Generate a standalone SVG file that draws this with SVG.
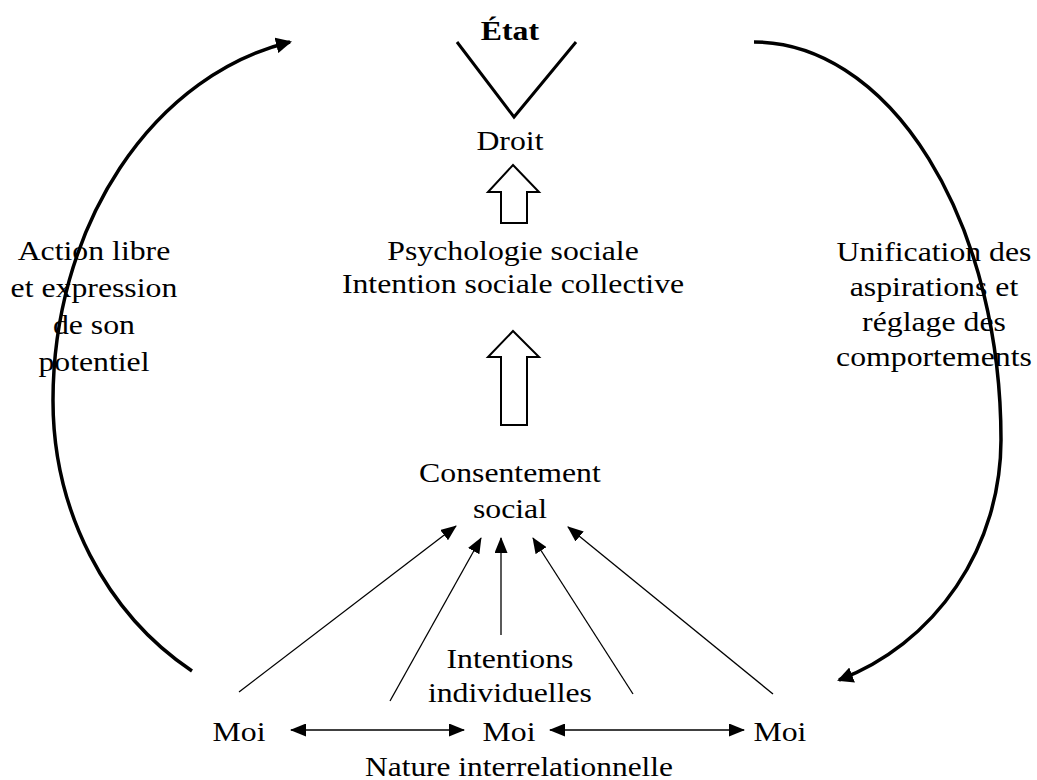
<svg xmlns="http://www.w3.org/2000/svg" width="1037" height="780" viewBox="0 0 1037 780">
<style>
text { font-family: "Liberation Serif", "Times New Roman", serif; font-size: 28px; fill: #000; text-anchor: middle; }
.b { font-weight: bold; }
.thick { fill: none; stroke: #000; stroke-width: 3.5; }
.thin { fill: none; stroke: #000; stroke-width: 1.3; }
.hollow { fill: #fff; stroke: #000; stroke-width: 2; stroke-linejoin: miter; }
</style>
<defs>
<marker id="big" markerUnits="userSpaceOnUse" markerWidth="16" markerHeight="16" viewBox="0 0 16 16" refX="14" refY="8" orient="auto"><path d="M0,0 L16,8 L0,16 z" fill="#000"/></marker>
<marker id="sm" markerUnits="userSpaceOnUse" markerWidth="16" markerHeight="13" viewBox="0 0 16 13" refX="15" refY="6.5" orient="auto-start-reverse"><path d="M0,0 L16,6.5 L0,13 z" fill="#000"/></marker>
</defs>
<rect width="1037" height="780" fill="#fff"/>

<g id="connectors">
<path class="thick" d="M192 671 A293 318 0 0 1 53 400 A293 365 0 0 1 290 42" marker-end="url(#big)"/>
<path class="thick" d="M754 42 A247 398 0 0 1 1001 440 A247 256 0 0 1 839 680" marker-end="url(#big)"/>
<line class="thin" x1="239" y1="692" x2="456" y2="526" marker-end="url(#sm)"/>
<line class="thin" x1="390" y1="701" x2="481" y2="538" marker-end="url(#sm)"/>
<line class="thin" x1="501" y1="635" x2="501" y2="538" marker-end="url(#sm)"/>
<line class="thin" x1="633" y1="694" x2="533" y2="538" marker-end="url(#sm)"/>
<line class="thin" x1="773" y1="694" x2="568" y2="527" marker-end="url(#sm)"/>
<line class="thin" x1="291" y1="730" x2="464" y2="730" marker-start="url(#sm)" marker-end="url(#sm)"/>
<line class="thin" x1="550" y1="730" x2="744" y2="730" marker-start="url(#sm)" marker-end="url(#sm)"/>
<polygon class="hollow" points="513,165 539,192 527,192 527,223 501,223 501,192 488,192"/>
<polygon class="hollow" points="513,331 539,357 527,357 527,425 501,425 501,357 488,357"/>
</g>

<g id="etat">
<polyline points="457,42 514,117 576,42" fill="none" stroke="#000" stroke-width="3"/>
<g transform="scale(1.135,1)"><text class="b" x="449.3" y="40">État</text></g>
</g>
<g id="droit"><g transform="scale(1.135,1)"><text x="449.3" y="150">Droit</text></g></g>
<g id="psychologie"><g transform="scale(1.135,1)">
<text x="452" y="260">Psychologie sociale</text>
<text x="452" y="293">Intention sociale collective</text>
</g></g>
<g id="consentement"><g transform="scale(1.135,1)">
<text x="449.3" y="482">Consentement</text>
<text x="449.3" y="518">social</text>
</g></g>
<g id="intentions"><g transform="scale(1.135,1)">
<text x="449.3" y="668">Intentions</text>
<text x="449.3" y="702">individuelles</text>
</g></g>
<g id="moi1"><g transform="scale(1.135,1)"><text x="210.6" y="741">Moi</text></g></g>
<g id="moi2"><g transform="scale(1.135,1)"><text x="448.5" y="741">Moi</text></g></g>
<g id="moi3"><g transform="scale(1.135,1)"><text x="687.2" y="741">Moi</text></g></g>
<g id="nature"><g transform="scale(1.135,1)"><text x="457.3" y="776" textLength="271.4" lengthAdjust="spacingAndGlyphs">Nature interrelationnelle</text></g></g>
<g id="action"><g transform="scale(1.135,1)">
<text x="82.8" y="260">Action libre</text>
<text x="82.8" y="297">et expression</text>
<text x="82.8" y="334">de son</text>
<text x="82.8" y="371">potentiel</text>
</g></g>
<g id="unification"><g transform="scale(1.135,1)">
<text x="822.9" y="261">Unification des</text>
<text x="822.9" y="296">aspirations et</text>
<text x="822.9" y="331">réglage des</text>
<text x="822.9" y="366">comportements</text>
</g></g>
</svg>
